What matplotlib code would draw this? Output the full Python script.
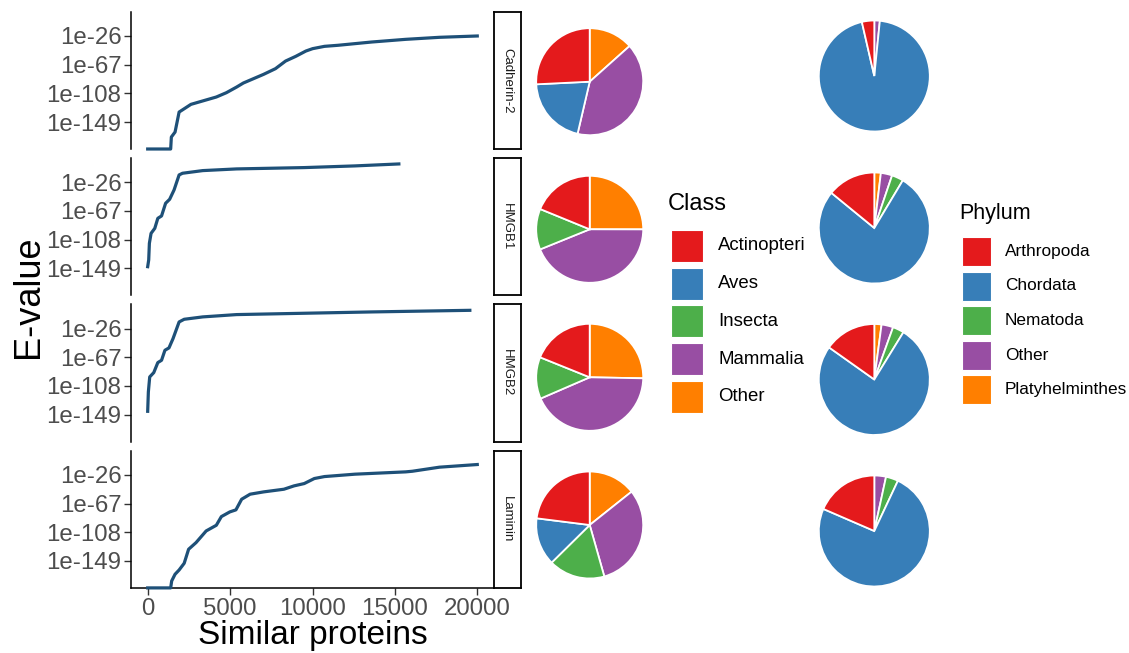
import numpy as np
import matplotlib
matplotlib.use("Agg")
import matplotlib.pyplot as plt
from matplotlib.patches import Rectangle

plt.rcParams['font.family'] = ['Liberation Sans', 'DejaVu Sans']

W, H = 1129, 653

proteins = ["Cadherin-2", "HMGB1", "HMGB2", "Laminin"]

# cumulative hits vs. log10(E-value); -inf means E = 0 (drawn on the panel floor)
NEG = -np.inf
cadherin_x = [0, 1395, 1436, 1661, 1907, 2215, 2625, 4164, 4779, 5394, 5805,
              7035, 7753, 8368, 8984, 9599, 10009, 10727, 11547, 13598, 15649,
              17700, 19997]
cadherin_y = [NEG, NEG, -170.4, -163.3, -134.7, -130, -123.7, -113.2, -107,
              -99, -93.2, -80.8, -72.7, -61.8, -55.1, -47.5, -44.1, -40.8,
              -39.3, -34.6, -30.8, -27.9, -26]
hmgb1_x = [0, 62, 103, 205, 431, 615, 841, 1087, 1333, 1600, 1907, 2113, 3343,
           5394, 9497, 12573, 15239]
hmgb1_y = [-146.6, -137, -113.2, -99, -91.8, -77.5, -74.1, -56, -50.3, -37,
           -15.5, -13.1, -9.3, -6.9, -5, -2.6, 0.2]
hmgb2_x = [0, 41, 123, 369, 615, 841, 1046, 1292, 1538, 1907, 2215, 3343, 5394,
           9497, 13598, 19546]
hmgb2_y = [-144.2, -116.6, -95.1, -88.9, -74.6, -71.3, -57, -53.6, -40.3,
           -16.5, -12.7, -9.3, -6, -4.1, -2.2, 0.1]
laminin_x = [0, 1395, 1456, 1661, 1907, 2215, 2482, 2933, 3548, 4164, 4471,
             4984, 5353, 5701, 6214, 7035, 8265, 8881, 9497, 10112, 10727,
             12573, 15649, 16059, 17700, 19997]
laminin_y = [NEG, NEG, -177.6, -168, -161.9, -152.3, -132.3, -122.8, -106.1,
             -98, -85.6, -78.9, -76, -60.8, -53.6, -50.3, -46.5, -41.7, -38.4,
             -31.2, -28.4, -25, -21.7, -20.8, -15, -11.2]

curves = [(cadherin_x, cadherin_y), (hmgb1_x, hmgb1_y),
          (hmgb2_x, hmgb2_y), (laminin_x, laminin_y)]

y_ticks = [-149, -108, -67, -26]
y_labels = ["1e-149", "1e-108", "1e-67", "1e-26"]
x_ticks = [0, 5000, 10000, 15000, 20000]

# taxonomic composition (%) of hits
class_names = ["Actinopteri", "Aves", "Insecta", "Mammalia", "Other"]
class_share = [
    [25.8, 20.6, 0, 40.3, 13.4],
    [18.8, 0, 12.3, 43.8, 25.0],
    [18.9, 0, 12.6, 43.2, 25.3],
    [23.0, 14.4, 17.0, 31.3, 14.3],
]
phylum_names = ["Arthropoda", "Chordata", "Nematoda", "Other", "Platyhelminthes"]
phylum_share = [
    [3.6, 94.8, 0, 1.6, 0],
    [14.1, 77.4, 3.4, 3.3, 1.9],
    [15.2, 76.1, 3.3, 3.4, 2.1],
    [18.5, 74.5, 3.6, 3.4, 0],
]
set1 = ["#E41A1C", "#377EB8", "#4DAF4A", "#984EA3", "#FF7F00"]
line_col = "#1E5078"
grey30 = "#4D4D4D"


def box(x0, y0, w, h):
    return [x0 / W, 1 - (y0 + h) / H, w / W, h / H]


fig = plt.figure(figsize=(W / 100, H / 100), dpi=100)

ylo, yhi = -187.5, 8.7
panel_h, gap = 137.3, 9.0
for i, name in enumerate(proteins):
    top = 11.7 + i * (panel_h + gap)
    ax = fig.add_axes(box(131.2, top, 362.6, panel_h))
    xs, ys = curves[i]
    ys = np.array(ys, dtype=float)
    ys = np.where(np.isinf(ys), ylo, ys)
    ax.plot(xs, ys, color=line_col, lw=2.3, solid_joinstyle="round",
            clip_on=False, zorder=3)
    ax.set_xlim(-1000, 21000)
    ax.set_ylim(ylo, yhi)
    for s in ["top", "right"]:
        ax.spines[s].set_visible(False)
    ax.spines["left"].set_linewidth(1.1)
    ax.set_yticks(y_ticks)
    ax.set_yticklabels(y_labels)
    ax.tick_params(axis="y", labelsize=17.3, labelcolor=grey30, length=5,
                   width=1, color="#333333", pad=2)
    if i < 3:
        ax.spines["bottom"].set_visible(False)
        ax.set_xticks([])
    else:
        ax.spines["bottom"].set_linewidth(1.1)
        ax.set_xticks(x_ticks)
        ax.tick_params(axis="x", labelsize=17.3, labelcolor=grey30, length=5,
                       width=1, color="#333333", pad=2)
        ax.set_xlabel("Similar proteins", fontsize=24, labelpad=0)

    # facet strip
    sax = fig.add_axes(box(493.8, top, 27, panel_h))
    sax.set_xticks([])
    sax.set_yticks([])
    for s in sax.spines.values():
        s.set_linewidth(1.3)
    sax.text(0.5, 0.5, name, rotation=-90, ha="center", va="center",
             fontsize=9.5, color="#1A1A1A", transform=sax.transAxes)

fig.text(29 / W, 1 - 297 / H, "E-value", rotation=90, ha="center",
         va="center", fontsize=26)


def draw_pie(cx, cy, r, shares):
    pad = 2.0
    ax = fig.add_axes(box(cx - r - pad, cy - r - pad, 2 * (r + pad), 2 * (r + pad)))
    vals = [v for v in shares[::-1] if v > 0]
    cols = [c for v, c in zip(shares[::-1], set1[::-1]) if v > 0]
    ax.pie(vals, colors=cols, startangle=90, counterclock=False,
           wedgeprops=dict(edgecolor="white", linewidth=1.3))
    lim = (r + pad) / r
    ax.set_xlim(-lim, lim)
    ax.set_ylim(-lim, lim)
    ax.set_aspect("equal")
    ax.axis("off")


class_cy = [81.7, 229.3, 377.3, 525]
phylum_cy = [76, 228, 379.5, 531]
for i in range(4):
    draw_pie(589.7, class_cy[i], 53.5, class_share[i])
    draw_pie(874.3, phylum_cy[i], 55.5, phylum_share[i])


def draw_legend(title, names, x0, title_y, key_top, key, step, tsize, lsize, lab_x):
    fig.text(x0 / W, 1 - title_y / H, title, ha="left", va="center",
             fontsize=tsize)
    for k, (nm, c) in enumerate(zip(names, set1)):
        ty = key_top + k * step
        fig.add_artist(Rectangle(((x0 + 3) / W, 1 - (ty + key) / H), key / W,
                                 key / H, transform=fig.transFigure,
                                 facecolor=c, edgecolor="white", lw=0.8))
        fig.text(lab_x / W, 1 - (ty + key / 2) / H, nm, ha="left",
                 va="center", fontsize=lsize)


draw_legend("Class", class_names, 668, 204, 230, 32, 37.7, 17, 13.4, 718)
draw_legend("Phylum", phylum_names, 959, 213, 237, 29, 34.5, 15.5, 12.4, 1005)

fig.savefig("out.png", dpi=100)
